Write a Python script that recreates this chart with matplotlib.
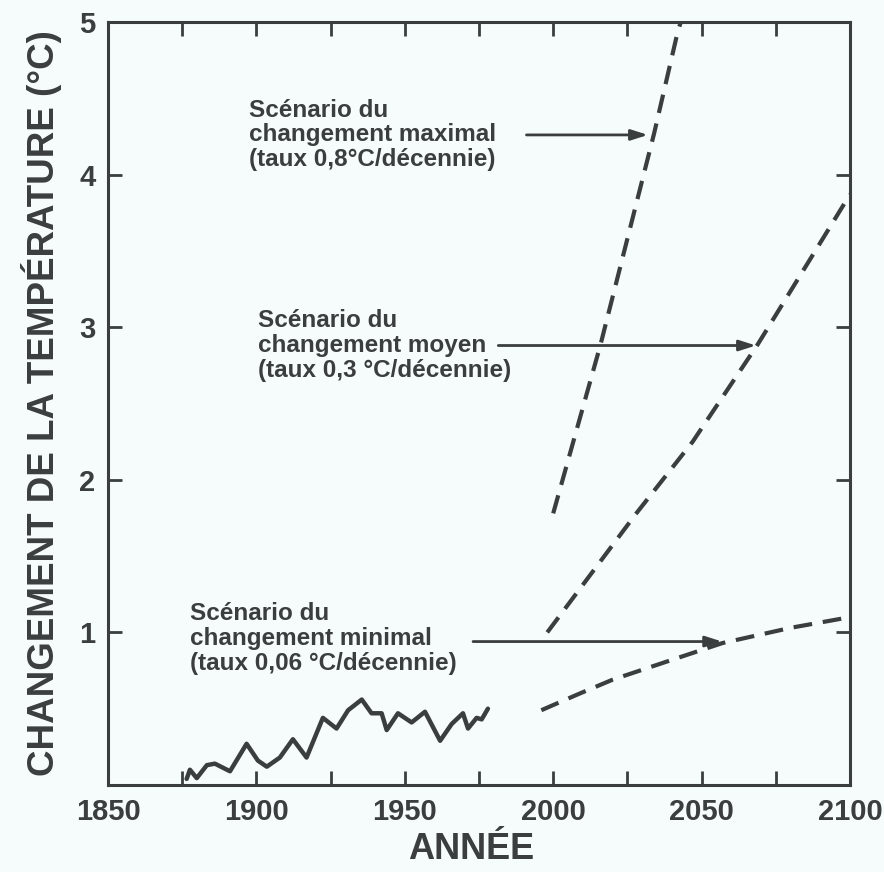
import numpy as np
import matplotlib
matplotlib.use("Agg")
import matplotlib.pyplot as plt
from matplotlib.ticker import MultipleLocator

plt.rcParams['font.family'] = ['Liberation Sans', 'DejaVu Sans']
plt.rcParams['font.weight'] = 'bold'

ink = '#3b3e3e'
paper = '#f6fbfb'

# observed record
obs_year = [1876.5, 1877.6, 1879.9, 1883.3, 1886.0, 1891.1, 1896.7, 1900.5,
            1903.5, 1907.9, 1912.3, 1916.9, 1922.4, 1927.0, 1930.9, 1935.5,
            1938.8, 1942.2, 1943.9, 1947.7, 1952.3, 1956.8, 1961.9, 1965.8,
            1969.6, 1971.3, 1974.2, 1975.9, 1978.0]
obs_temp = [0.04, 0.10, 0.045, 0.13, 0.14, 0.09, 0.27, 0.16,
            0.12, 0.18, 0.30, 0.18, 0.44, 0.37, 0.49, 0.56,
            0.47, 0.47, 0.36, 0.47, 0.41, 0.48, 0.29, 0.40,
            0.47, 0.37, 0.44, 0.43, 0.50]

# scenarios
max_year = [2000, 2016, 2034, 2042, 2043]
max_temp = [1.78, 2.89, 4.27, 4.94, 5.0]
moy_year = [1998, 2028, 2047, 2069, 2100]
moy_temp = [1.0, 1.78, 2.25, 2.89, 3.87]
min_year = [1996, 2009, 2020, 2040, 2057, 2080, 2100]
min_temp = [0.49, 0.60, 0.69, 0.82, 0.93, 1.03, 1.10]

labels = ["Scénario du\nchangement maximal\n(taux 0,8°C/décennie)",
          "Scénario du\nchangement moyen\n(taux 0,3 °C/décennie)",
          "Scénario du\nchangement minimal\n(taux 0,06 °C/décennie)"]
label_pos = [(1897.5, 4.26), (1900.5, 2.88), (1877.6, 0.96)]
arrow_from = [(1991.0, 4.26), (1981.5, 2.88), (1973.0, 0.94)]
arrow_to = [(2031.9, 4.26), (2068.3, 2.88), (2056.9, 0.94)]

fig = plt.figure(figsize=(8.84, 8.72), dpi=100, facecolor=paper)
ax = fig.add_axes([108/884, 87/872, 742/884, 763/872], facecolor=paper)

ax.plot(obs_year, obs_temp, color=ink, lw=3.2, solid_joinstyle='round',
        solid_capstyle='round')
for xs, ys in [(max_year, max_temp), (moy_year, moy_temp), (min_year, min_temp)]:
    ax.plot(xs, ys, color=ink, lw=3.0, dashes=(4.5, 2.6))

for txt, (x, y) in zip(labels, label_pos):
    ax.text(x, y, txt, ha='left', va='center', fontsize=17.5, color=ink,
            linespacing=1.1)
for (x0, y0), (x1, y1) in zip(arrow_from, arrow_to):
    ax.annotate('', xy=(x1, y1), xytext=(x0, y0),
                arrowprops=dict(arrowstyle='-|>,head_length=1.0,head_width=0.32',
                                color=ink, lw=2.0, shrinkA=0, shrinkB=0))

ax.set_xlim(1850, 2100)
ax.set_ylim(0, 5)
ax.xaxis.set_major_locator(MultipleLocator(50))
ax.xaxis.set_minor_locator(MultipleLocator(25))
ax.set_yticks([1, 2, 3, 4, 5])
ax.tick_params(which='both', direction='in', length=10, width=2, color=ink,
               top=True, right=True, labelsize=21, labelcolor=ink, pad=9)
for s in ax.spines.values():
    s.set_linewidth(2.2)
    s.set_color(ink)

ax.set_xlabel('ANNÉE', fontsize=26, fontweight='bold', color=ink)
ax.xaxis.set_label_coords(0.49, -0.084, transform=ax.transAxes)
ax.xaxis.label.set_va('center')
ax.set_ylabel('CHANGEMENT DE LA TEMPÉRATURE (°C)', fontsize=26.5,
              fontweight='bold', color=ink)
ax.yaxis.set_label_coords(-0.09, 0.5, transform=ax.transAxes)
ax.yaxis.label.set_va('center')

fig.savefig('out.png', dpi=100, facecolor=paper)
